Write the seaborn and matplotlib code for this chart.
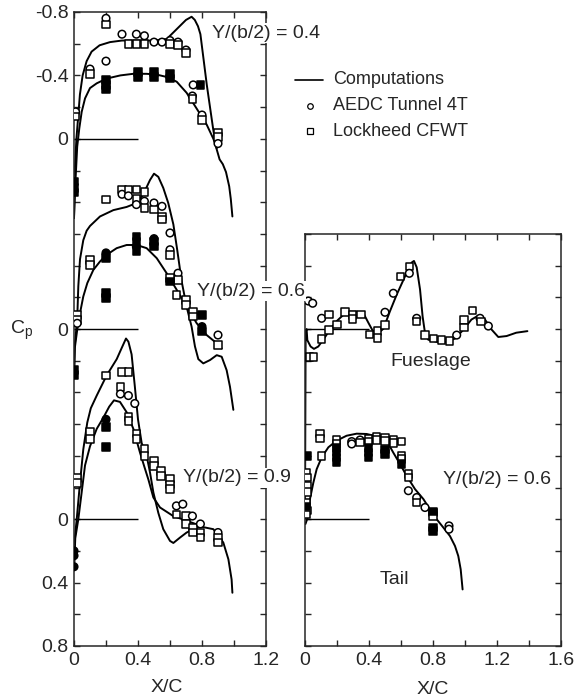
"""Pressure distributions on wing, fuselage and tail: computations vs. tunnel data."""

import numpy as np
import pandas as pd
import matplotlib
matplotlib.use("Agg")
import matplotlib.pyplot as plt
import seaborn as sns
from matplotlib import font_manager
from matplotlib.lines import Line2D

# ---- computed curves (x/c, Cp) ----
wing04_upper_x = [0.0, 0.005, 0.015, 0.027, 0.037, 0.054, 0.079, 0.11, 0.16, 0.225, 0.3, 0.4, 0.5, 0.58, 0.62,
                  0.66, 0.70, 0.735, 0.755, 0.775, 0.79, 0.81, 0.83, 0.85, 0.87, 0.89, 0.91, 0.93, 0.95, 0.97, 0.98, 0.99]
wing04_upper_cp = [0.5, 0.2, 0.0, -0.15, -0.28, -0.40, -0.49, -0.55, -0.59, -0.61, -0.62, -0.62, -0.62, -0.63, -0.67,
                   -0.71, -0.75, -0.77, -0.75, -0.71, -0.66, -0.5, -0.34, -0.2, -0.06, 0.06, 0.13, 0.16, 0.21, 0.3, 0.38, 0.49]
wing04_lower_x = [0.0, 0.01, 0.02, 0.033, 0.048, 0.069, 0.1, 0.142, 0.204, 0.29, 0.37, 0.454, 0.517, 0.58, 0.642,
                  0.704, 0.767, 0.829, 0.871, 0.892]
wing04_lower_cp = [0.5, 0.25, 0.05, -0.065, -0.17, -0.255, -0.32, -0.35, -0.38, -0.40, -0.41, -0.41, -0.405, -0.39, -0.36,
                   -0.29, -0.19, -0.09, 0.0, 0.06]

wing06_upper_x = [0.0, 0.005, 0.02, 0.027, 0.0375, 0.058, 0.079, 0.1, 0.1625, 0.246, 0.329, 0.392, 0.433, 0.475, 0.5,
                  0.527, 0.558, 0.589, 0.621, 0.645, 0.673, 0.704, 0.735, 0.756, 0.777, 0.808, 0.85, 0.892, 0.923,
                  0.954, 0.975, 0.996]
wing06_upper_cp = [0.3, 0.1, -0.06, -0.27, -0.44, -0.56, -0.62, -0.65, -0.71, -0.75, -0.77, -0.795, -0.85, -0.94, -0.98,
                   -0.96, -0.89, -0.795, -0.66, -0.5, -0.3, -0.14, -0.015, 0.11, 0.19, 0.217, 0.196, 0.165, 0.175,
                   0.26, 0.365, 0.51]
wing06_lower_x = [0.0, 0.005, 0.02, 0.0375, 0.058, 0.0833, 0.121, 0.1625, 0.204, 0.2667, 0.329, 0.392, 0.454, 0.517,
                  0.579, 0.642, 0.704, 0.767, 0.829, 0.892, 0.923]
wing06_lower_cp = [0.3, 0.12, 0.006, -0.1, -0.205, -0.29, -0.373, -0.426, -0.468, -0.51, -0.53, -0.53, -0.51, -0.447,
                   -0.352, -0.247, -0.141, -0.036, 0.038, 0.09, 0.122]

wing09_upper_x = [0.0, 0.005, 0.017, 0.0375, 0.058, 0.083, 0.105, 0.142, 0.204, 0.267, 0.298, 0.325, 0.34, 0.36, 0.38,
                  0.40, 0.423, 0.454, 0.475, 0.496, 0.527, 0.558, 0.6, 0.621, 0.6625, 0.704, 0.7875, 0.871, 0.933,
                  0.965, 0.985, 0.99]
wing09_upper_cp = [0.32, 0.12, 0.0, -0.23, -0.44, -0.61, -0.70, -0.78, -0.907, -1.01, -1.08, -1.14, -1.12, -1.04, -0.84,
                   -0.63, -0.48, -0.40, -0.295, -0.169, -0.04, 0.063, 0.137, 0.15, 0.116, 0.084, 0.046, 0.063, 0.147,
                   0.253, 0.38, 0.464]
wing09_lower_x = [0.0, 0.008, 0.027, 0.048, 0.069, 0.1, 0.142, 0.183, 0.22, 0.25, 0.2875, 0.329, 0.371, 0.4125, 0.44,
                  0.465, 0.496, 0.5375, 0.62, 0.704, 0.7875]
wing09_lower_cp = [0.32, 0.12, 0.0, -0.17, -0.34, -0.46, -0.57, -0.64, -0.71, -0.75, -0.74, -0.675, -0.57, -0.42, -0.33,
                   -0.25, -0.137, -0.074, -0.02, 0.01, 0.04]

fuse_x = [0.0, 0.004, 0.01, 0.0146, 0.035, 0.056, 0.083, 0.115, 0.156, 0.198, 0.24, 0.28, 0.323, 0.365, 0.396, 0.423,
          0.458, 0.49, 0.53, 0.573, 0.615, 0.646, 0.667, 0.681, 0.698, 0.719, 0.735, 0.75, 0.77, 0.823, 0.885, 0.9375,
          0.99, 1.04, 1.083, 1.125, 1.167, 1.208, 1.26, 1.32, 1.39]
fuse_cp = [1.19, 0.02, 0.0, 0.07, 0.11, 0.125, 0.11, 0.066, 0.004, -0.05, -0.09, -0.11, -0.11, -0.1, -0.04, 0.01,
           0.025, -0.002, -0.11, -0.217, -0.31, -0.38, -0.42, -0.43, -0.39, -0.25, -0.08, 0.025, 0.067, 0.08, 0.08, 0.06,
           0.004, -0.06, -0.085, -0.06, 0.004, 0.05, 0.044, 0.023, 0.013]

tail_x = [0.003, 0.02, 0.031, 0.052, 0.073, 0.104, 0.146, 0.198, 0.26, 0.323, 0.385, 0.448, 0.51, 0.552, 0.594, 0.635,
          0.6875, 0.74, 0.78, 0.823, 0.865, 0.906, 0.9375, 0.958, 0.973, 0.985]
tail_cp = [0.03, -0.02, -0.127, -0.23, -0.316, -0.39, -0.454, -0.496, -0.527, -0.54, -0.538, -0.523, -0.496, -0.42,
           -0.348, -0.274, -0.19, -0.127, -0.063, 0.0, 0.053, 0.106, 0.169, 0.232, 0.316, 0.443]

# ---- test points: A = AEDC Tunnel 4T, L = Lockheed CFWT; O = open, F = filled ----
pts04_x = [0.2, 0.2, 0.2, 0.1, 0.1, 0.01, 0.01, 0.3, 0.34, 0.39, 0.39, 0.44, 0.44, 0.5, 0.55, 0.6, 0.6, 0.65, 0.65,
           0.7, 0.7, 0.745, 0.74, 0.74, 0.8, 0.8, 0.9, 0.9, 0.9,
           0.2, 0.2, 0.2, 0.4, 0.4, 0.5, 0.5, 0.6, 0.6, 0.79, 0.0, 0.0, 0.0]
pts04_cp = [-0.76, -0.72, -0.49, -0.44, -0.41, -0.17, -0.14, -0.66, -0.60, -0.66, -0.60, -0.65, -0.60, -0.61, -0.61,
            -0.62, -0.60, -0.61, -0.59, -0.56, -0.54, -0.34, -0.27, -0.25, -0.15, -0.12, -0.04, -0.01, 0.03,
            -0.37, -0.34, -0.31, -0.42, -0.39, -0.42, -0.39, -0.41, -0.38, -0.34, 0.27, 0.31, 0.34]
pts04_kind = ['AO', 'LO', 'AO', 'AO', 'LO', 'AO', 'LO', 'AO', 'LO', 'AO', 'LO', 'AO', 'LO', 'AO', 'AO', 'AO', 'LO',
              'AO', 'LO', 'AO', 'LO', 'AO', 'AO', 'LO', 'AO', 'LO', 'LO', 'LO', 'AO',
              'LF', 'LF', 'LF', 'LF', 'LF', 'LF', 'LF', 'LF', 'LF', 'LF', 'LF', 'LF', 'LF']

pts06_x = [0.2, 0.3, 0.3, 0.34, 0.34, 0.39, 0.39, 0.39, 0.44, 0.44, 0.44, 0.5, 0.5, 0.55, 0.55, 0.55, 0.6,
           0.1, 0.1, 0.6, 0.6, 0.65, 0.65, 0.6, 0.64, 0.7, 0.7, 0.745, 0.745, 0.9, 0.9, 0.02, 0.02, 0.02,
           0.2, 0.2, 0.2, 0.2, 0.39, 0.39, 0.39, 0.39, 0.5, 0.5, 0.5, 0.6, 0.8, 0.8, 0.8, 0.0, 0.0]
pts06_cp = [-0.816, -0.88, -0.85, -0.88, -0.84, -0.88, -0.82, -0.785, -0.865, -0.806, -0.764, -0.795, -0.753,
            -0.774, -0.71, -0.69, -0.606,
            -0.437, -0.405, -0.5, -0.468, -0.352, -0.31, -0.32, -0.215, -0.184, -0.152, -0.11, -0.078, 0.038, 0.10,
            -0.089, -0.057, -0.036,
            -0.48, -0.447, -0.226, -0.194, -0.584, -0.553, -0.52, -0.49, -0.57, -0.553, -0.52, -0.3, -0.089, -0.015,
            0.017, 0.26, 0.29]
pts06_kind = ['LO', 'LO', 'AO', 'LO', 'AO', 'LO', 'LO', 'AO', 'LO', 'AO', 'LO', 'AO', 'LO', 'AO', 'LO', 'LO', 'AO',
              'LO', 'LO', 'AO', 'LO', 'AO', 'LO', 'LO', 'LO', 'LO', 'LO', 'LO', 'LO', 'AO', 'LO', 'LO', 'LO', 'AO',
              'AF', 'LF', 'LF', 'LF', 'LF', 'LF', 'AF', 'LF', 'AF', 'LF', 'LF', 'LF', 'LF', 'AF', 'LF', 'LF', 'LF']

pts09_x = [0.1, 0.1, 0.2, 0.3, 0.34, 0.29, 0.29, 0.34, 0.38, 0.34, 0.34, 0.39, 0.39, 0.44, 0.44, 0.5, 0.5, 0.545,
           0.545, 0.6, 0.6, 0.6, 0.02, 0.02, 0.64, 0.64, 0.68, 0.7, 0.7, 0.74, 0.745, 0.745, 0.79, 0.79, 0.79, 0.9,
           0.9, 0.9,
           0.2, 0.2, 0.2, 0.0, 0.0, 0.0]
pts09_cp = [-0.549, -0.506, -0.907, -0.928, -0.93, -0.834, -0.79, -0.78, -0.73, -0.644, -0.62, -0.54, -0.506, -0.443,
            -0.4, -0.37, -0.337, -0.306, -0.274, -0.253, -0.22, -0.19, -0.26, -0.23, -0.084, -0.03, -0.095, -0.02,
            0.03, -0.02, 0.053, 0.084, 0.03, 0.084, 0.116, 0.084, 0.116, 0.147,
            -0.63, -0.58, -0.454, 0.2, 0.23, 0.3]
pts09_kind = ['LO', 'LO', 'LO', 'LO', 'LO', 'LO', 'AO', 'AO', 'AO', 'LO', 'LO', 'LO', 'LO', 'LO', 'LO', 'LO', 'LO',
              'LO', 'LO', 'LO', 'LO', 'LO', 'LO', 'LO', 'AO', 'LO', 'AO', 'LO', 'LO', 'AO', 'LO', 'LO', 'AO', 'LO',
              'LO', 'AO', 'LO', 'LO',
              'AF', 'LF', 'LF', 'AF', 'AF', 'AF']

fuse_pts_x = [0.021, 0.048, 0.027, 0.052, 0.104, 0.15, 0.104, 0.15, 0.2, 0.25, 0.298, 0.298, 0.35, 0.402, 0.452,
              0.452, 0.5, 0.5, 0.552, 0.598, 0.652, 0.652, 0.698, 0.698, 0.75, 0.802, 0.854, 0.902, 0.948, 0.994,
              0.994, 1.048, 1.094, 1.1, 1.146]
fuse_pts_cp = [-0.177, -0.163, 0.175, 0.175, -0.068, -0.093, 0.063, 0.006, -0.03, -0.106, -0.089, -0.063, -0.093,
               0.034, 0.013, 0.055, -0.106, -0.025, -0.226, -0.331, -0.394, -0.352, -0.068, -0.047, 0.038, 0.059,
               0.07, 0.074, 0.038, -0.057, -0.01, -0.116, -0.068, -0.047, -0.019]
fuse_pts_kind = ['AO', 'AO', 'LO', 'LO', 'AO', 'LO', 'LO', 'LO', 'LO', 'LO', 'LO', 'LO', 'LO', 'LO', 'LO', 'LO',
                 'AO', 'LO', 'AO', 'LO', 'LO', 'AO', 'AO', 'LO', 'LO', 'LO', 'LO', 'LO', 'AO', 'LO', 'LO', 'LO',
                 'AO', 'LO', 'AO']

tail_pts_x = [0.094, 0.094, 0.104, 0.198, 0.198, 0.292, 0.292, 0.344, 0.344, 0.396, 0.396, 0.448, 0.448, 0.5, 0.5,
              0.552, 0.552, 0.604, 0.604, 0.604, 0.646, 0.646, 0.646, 0.698, 0.698, 0.75, 0.8, 0.8, 0.9, 0.9,
              0.01, 0.015, 0.015, 0.015, 0.01, 0.015, 0.01,
              0.198, 0.198, 0.198, 0.198, 0.396, 0.396, 0.396, 0.5, 0.5, 0.604, 0.8, 0.8, 0.8, 0.015, 0.01]
tail_pts_cp = [-0.54, -0.51, -0.4, -0.5, -0.475, -0.49, -0.475, -0.5, -0.485, -0.505, -0.49, -0.52, -0.5, -0.515,
               -0.495, -0.5, -0.48, -0.49, -0.4, -0.38, -0.285, -0.264, -0.18, -0.137, -0.105, -0.074, -0.042,
               -0.021, 0.042, 0.063,
               -0.295, -0.264, -0.21, -0.17, -0.106, -0.054, -0.03,
               -0.45, -0.42, -0.39, -0.36, -0.45, -0.42, -0.39, -0.44, -0.41, -0.35, -0.05, 0.053, 0.074, -0.4, -0.08]
tail_pts_kind = ['LO', 'LO', 'LO', 'LO', 'LO', 'AO', 'AO', 'AO', 'LO', 'LO', 'LO', 'LO', 'LO', 'LO', 'LO', 'LO', 'LO',
                 'LO', 'LO', 'LO', 'LO', 'LO', 'AO', 'AO', 'LO', 'AO', 'LO', 'LO', 'AO', 'AO',
                 'LO', 'LO', 'LO', 'LO', 'LO', 'LO', 'LO',
                 'LF', 'LF', 'LF', 'LF', 'LF', 'LF', 'LF', 'LF', 'LF', 'LF', 'LF', 'LF', 'LF', 'LF', 'LF']

# each distribution is shifted down the shared Cp axis by its own zero
wing_offsets = {'0.4': 2.4, '0.6': 1.2, '0.9': 0.0}
fuse_offset, tail_offset = 1.2, 0.0


def curves_frame(curves):
    frames = []
    for name, (xs, cps, off) in curves.items():
        frames.append(pd.DataFrame({'x': xs, 'y': np.asarray(cps) - off, 'curve': name}))
    return pd.concat(frames, ignore_index=True)


def points_frame(sets):
    frames = []
    for xs, cps, kinds, off in sets:
        d = pd.DataFrame({'x': xs, 'cp': cps, 'kind': kinds})
        d['y'] = d['cp'] - off
        frames.append(d)
    d = pd.concat(frames, ignore_index=True)
    d['facility'] = d['kind'].str[0].map({'A': 'AEDC Tunnel 4T', 'L': 'Lockheed CFWT'})
    d['surface'] = d['kind'].str[1].map({'O': 'open', 'F': 'filled'})
    return d


wing_lines = curves_frame({
    'w04u': (wing04_upper_x, wing04_upper_cp, wing_offsets['0.4']),
    'w04l': (wing04_lower_x, wing04_lower_cp, wing_offsets['0.4']),
    'w06u': (wing06_upper_x, wing06_upper_cp, wing_offsets['0.6']),
    'w06l': (wing06_lower_x, wing06_lower_cp, wing_offsets['0.6']),
    'w09u': (wing09_upper_x, wing09_upper_cp, wing_offsets['0.9']),
    'w09l': (wing09_lower_x, wing09_lower_cp, wing_offsets['0.9']),
})
body_lines = curves_frame({
    'fuse': (fuse_x, fuse_cp, fuse_offset),
    'tail': (tail_x, tail_cp, tail_offset),
})
wing_pts = points_frame([
    (pts04_x, pts04_cp, pts04_kind, wing_offsets['0.4']),
    (pts06_x, pts06_cp, pts06_kind, wing_offsets['0.6']),
    (pts09_x, pts09_cp, pts09_kind, wing_offsets['0.9']),
])
body_pts = points_frame([
    (fuse_pts_x, fuse_pts_cp, fuse_pts_kind, fuse_offset),
    (tail_pts_x, tail_pts_cp, tail_pts_kind, tail_offset),
])

# ---- style ----
sns.set_style('ticks')
available = {f.name for f in font_manager.fontManager.ttflist}
family = 'Liberation Sans Narrow' if 'Liberation Sans Narrow' in available else 'Liberation Sans'
plt.rcParams['font.family'] = [family, 'DejaVu Sans']
plt.rcParams['mathtext.fontset'] = 'custom'
plt.rcParams['mathtext.rm'] = family
FS = 14

W, H = 576, 700
fig = plt.figure(figsize=(W / 100, H / 100), dpi=100)
ax_w = fig.add_axes([74 / W, 54 / H, 192 / W, 634 / H])
ax_b = fig.add_axes([305 / W, 54 / H, 256 / W, 412 / H])


def draw(ax, lines, pts, zeros):
    sns.lineplot(data=lines, x='x', y='y', units='curve', estimator=None, sort=False,
                 color='black', lw=1.4, ax=ax)
    ax.hlines(zeros, 0, 0.4, color='black', lw=1.0)
    sns.scatterplot(data=pts, x='x', y='y', style='facility', hue='surface',
                    markers={'AEDC Tunnel 4T': 'o', 'Lockheed CFWT': 's'},
                    palette={'open': 'white', 'filled': 'black'},
                    edgecolor='black', linewidth=1.1, s=30, legend=False, zorder=3, ax=ax)
    ax.set_xlabel('')
    ax.set_ylabel('')
    ax.tick_params(direction='in', top=True, right=True, length=4, width=1,
                   labelsize=FS, pad=4)
    for sp in ax.spines.values():
        sp.set_linewidth(1.1)


draw(ax_w, wing_lines, wing_pts, [-v for v in wing_offsets.values()])
draw(ax_b, body_lines, body_pts, [-fuse_offset, -tail_offset])

ax_w.set_xlim(0, 1.2)
ax_w.set_ylim(0.8, -3.2)
ax_w.set_xticks(np.arange(0, 1.21, 0.2))
ax_w.set_xticklabels(['0', '', '0.4', '', '0.8', '', '1.2'])
wing_yticks = np.round(np.arange(-3.2, 0.81, 0.2), 1)
wing_ylabels = {-3.2: '-0.8', -2.8: '-0.4', -2.4: '0', -1.2: '0', 0.0: '0', 0.4: '0.4', 0.8: '0.8'}
ax_w.set_yticks(wing_yticks)
ax_w.set_yticklabels([wing_ylabels.get(float(t), '') for t in wing_yticks])

ax_b.set_xlim(0, 1.6)
ax_b.set_ylim(0.8, -1.8)
ax_b.set_xticks(np.arange(0, 1.61, 0.2))
ax_b.set_xticklabels(['0', '', '0.4', '', '0.8', '', '1.2', '', '1.6'])
ax_b.set_yticks(np.round(np.arange(-1.8, 0.81, 0.2), 1))
ax_b.set_yticklabels([])

# ---- annotations ----
box = dict(facecolor='white', edgecolor='none', pad=1.0)


def ftext(px, py, s, size=FS, **kw):
    return fig.text(px / W, 1 - py / H, s, fontsize=size, va='center', **kw)


ftext(212, 33, 'Y/(b/2) = 0.4', ha='left', bbox=box)
ftext(197, 291, 'Y/(b/2) = 0.6', ha='left', bbox=box)
ftext(183, 478, 'Y/(b/2) = 0.9', ha='left', bbox=box)
ftext(390, 362, 'Fueslage', ha='left')
ftext(380, 580, 'Tail', ha='left')
ftext(443, 480, 'Y/(b/2) = 0.6', ha='left', bbox=box)
ftext(167, 688, 'X/C', ha='center')
ftext(433, 690, 'X/C', ha='center')
ftext(22, 330, r'$\mathregular{C_p}$', ha='center')

# legend drawn by hand, as in the original figure
leg_rows = [('Computations', 80), ('AEDC Tunnel 4T', 106), ('Lockheed CFWT', 131)]
fig.add_artist(Line2D([295 / W, 323 / W], [1 - 80 / H] * 2, color='black', lw=1.2,
                      transform=fig.transFigure))
fig.add_artist(Line2D([310 / W], [1 - 106 / H], marker='o', ms=4, mfc='white', mec='black', mew=0.9,
                      transform=fig.transFigure))
fig.add_artist(Line2D([310 / W], [1 - 131 / H], marker='s', ms=4, mfc='white', mec='black', mew=0.9,
                      transform=fig.transFigure))
for label, py in leg_rows:
    ftext(333, py, label, size=13, ha='left')

fig.savefig('out.png', dpi=100)
